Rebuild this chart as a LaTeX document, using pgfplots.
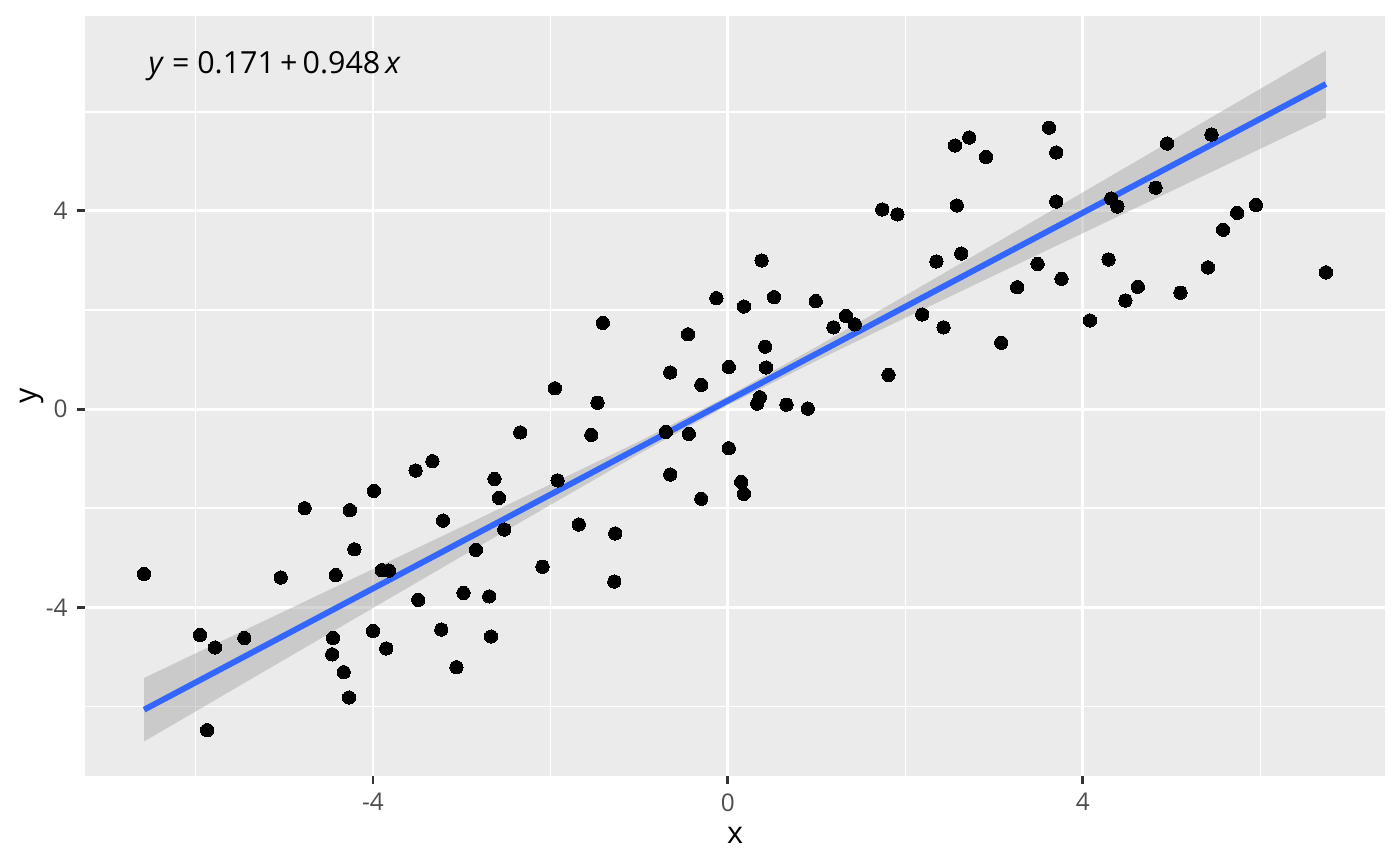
\documentclass[border=0pt]{standalone}
\usepackage{fontspec}
\setmainfont{Open Sans}
\usepackage{pgfplots}
\pgfplotsset{compat=1.18}
\usepackage{pgfplotstable}
\definecolor{panelbg}{HTML}{EBEBEB}
\definecolor{gray20}{HTML}{333333}
\definecolor{gray30}{HTML}{4D4D4D}
\definecolor{gray60}{HTML}{999999}
\definecolor{smoothblue}{HTML}{3366FF}

\pgfplotstableread{
x y
-6.58 -3.33
-4.77 -2.00
-5.04 -3.40
-4.26 -2.04
-3.99 -1.65
-3.52 -1.24
-4.21 -2.83
-4.42 -3.35
-3.90 -3.25
-3.82 -3.26
-3.49 -3.85
-5.95 -4.56
-5.78 -4.81
-5.45 -4.62
-4.45 -4.62
-4.46 -4.95
-4.00 -4.48
-3.85 -4.83
-4.33 -5.31
-4.27 -5.82
-5.87 -6.48
-1.41 1.74
-0.45 1.51
-0.65 0.74
0.01 0.85
-0.30 0.49
-1.95 0.42
-1.47 0.13
-2.34 -0.47
-1.54 -0.52
-0.70 -0.46
-0.44 -0.50
0.01 -0.79
-3.33 -1.05
-2.63 -1.41
-2.58 -1.79
-1.92 -1.44
-0.65 -1.32
-0.30 -1.81
0.15 -1.47
0.18 -1.71
-3.21 -2.25
-2.52 -2.43
-2.84 -2.84
-1.68 -2.33
-1.27 -2.51
-2.09 -3.18
-1.28 -3.48
-2.98 -3.71
-2.69 -3.78
-3.23 -4.45
-2.67 -4.59
-3.06 -5.21
0.38 3.00
-0.13 2.24
0.18 2.07
0.52 2.26
0.99 2.18
1.33 1.88
1.43 1.71
1.19 1.65
0.42 1.26
0.43 0.84
0.36 0.24
0.33 0.11
0.66 0.09
0.90 0.01
1.81 0.69
2.19 1.91
2.43 1.65
2.35 2.98
2.63 3.14
3.62 5.68
2.72 5.48
2.56 5.32
2.91 5.09
3.70 5.18
1.74 4.03
1.91 3.93
2.58 4.11
3.70 4.19
4.32 4.25
4.39 4.09
3.49 2.93
3.26 2.46
3.76 2.63
4.29 3.02
4.48 2.19
4.62 2.47
3.08 1.34
4.08 1.79
4.95 5.36
5.45 5.54
4.82 4.47
5.95 4.12
5.74 3.96
5.58 3.62
5.41 2.86
6.74 2.76
5.10 2.35
}\pointdata

\pgfplotstableread{
x y
-6.58 -5.426
-6 -4.932
-5 -4.081
-4 -3.228
-3 -2.375
-2 -1.518
-1 -0.651
0 0.262
1 1.259
2 2.292
3 3.332
4 4.375
5 5.419
6 6.463
6.74 7.237
6.74 5.885
6 5.255
5 4.403
4 3.551
3 2.698
2 1.842
1 0.979
0 0.080
-1 -0.903
-2 -1.932
-3 -2.971
-4 -4.014
-5 -5.057
-6 -6.102
-6.58 -6.708
}\banddata

\pgfplotstableread{
x y
-6.58 -6.067
6.74 6.561
}\linedata

\begin{document}
\begin{tikzpicture}
\begin{axis}[
  at={(0,0)}, anchor=south west,
  scale only axis, width=469.76pt, height=274.63pt,
  xmin=-7.246, xmax=7.406, ymin=-7.405, ymax=7.934,
  axis background/.style={fill=panelbg},
  axis line style={draw=none},
  xtick={-4,0,4}, xticklabels={-4,0,4},
  ytick={-4,0,4}, yticklabels={-4,0,4},
  minor xtick={-6,-2,2,6}, minor ytick={-6,-2,2,6},
  grid=both,
  major grid style={white, line width=1.07pt},
  minor grid style={white, line width=0.53pt},
  major tick style={draw=gray20, line width=1.07pt},
  minor tick style={draw=none},
  major tick length=2.75pt, minor tick length=0pt,
  tick align=outside, xtick pos=bottom, ytick pos=left,
  ticklabel style={font=\fontsize{8.8}{10}\selectfont, text=gray30},
  xlabel={x}, ylabel={y},
  label style={font=\fontsize{11}{13}\selectfont},
  xlabel style={at={(axis description cs:0.5,-0.0882)}, anchor=base},
  ylabel style={at={(axis description cs:-0.0375,0.5)}, anchor=base},
  clip=true,
]
\addplot[only marks, mark=*, mark size=2.4pt, mark options={draw=black, fill=black, line width=0pt}] table {\pointdata};
\addplot[fill=gray60, fill opacity=0.4, draw=none] table {\banddata} -- cycle;
\addplot[smoothblue, line width=2.13pt] table {\linedata};
\node[anchor=base west, inner sep=0pt, font=\fontsize{11}{13}\selectfont] at (axis cs:-6.535,6.78) {\textit{y} = 0.171\,+\,0.948\,\textit{x}};
\end{axis}
\pgfresetboundingbox
\path (-30.71pt,-32.52pt) rectangle (475.18pt,280.41pt);
\end{tikzpicture}
\end{document}
